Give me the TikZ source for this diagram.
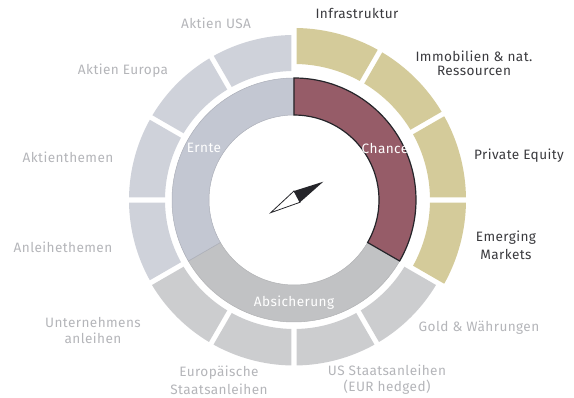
\documentclass[tikz,border=0pt]{standalone}
\usepackage{fontspec}
\setmainfont[LetterSpace=3]{Fira Sans}
\usetikzlibrary{positioning}
\definecolor{goldseg}{HTML}{D4CB9A}
\definecolor{blueseg}{HTML}{CFD2DA}
\definecolor{greyseg}{HTML}{CCCDCF}
\definecolor{ernteseg}{HTML}{C3C7D2}
\definecolor{absichseg}{HTML}{C1C2C4}
\definecolor{chanceseg}{HTML}{965C68}
\definecolor{darktext}{HTML}{3A3A3E}
\definecolor{paletext}{HTML}{B4B5B9}
\definecolor{darkline}{HTML}{25252A}
\tikzset{lab/.style={font=\fontsize{13.6}{15}\selectfont,inner sep=0pt,text=paletext}}
\tikzset{labdark/.style={lab,text=darktext}}
\tikzset{labring/.style={lab,text=white}}
% start, end, outer radius, inner radius, colour
\newcommand{\outerseg}[5]{%
  \pgfmathsetmacro{\gapo}{2.6/#3*57.3}\pgfmathsetmacro{\gapi}{2.6/#4*57.3}%
  \fill[#5] (#1-\gapo:#3pt) arc[start angle=#1-\gapo,end angle=#2+\gapo,radius=#3pt]
    -- (#2+\gapi:#4pt) arc[start angle=#2+\gapi,end angle=#1-\gapi,radius=#4pt] -- cycle;}
\newcommand{\innerseg}[4]{%
  \draw[#3,fill=#4] (#1:122pt) arc[start angle=#1,end angle=#2,radius=122pt]
    -- (#2:85pt) arc[start angle=#2,end angle=#1,radius=85pt] -- cycle;}
\begin{document}
\begin{tikzpicture}[x=1pt,y=1pt]
\useasboundingbox (-294,-198) rectangle (280,200);

% outer ring
\foreach \a in {90,60,30,0} \outerseg{\a}{\a-30}{172}{136}{goldseg};
\foreach \a in {-30,-60,-90,-120} \outerseg{\a}{\a-30}{165.5}{129}{greyseg};
\foreach \a in {-150,-180,-210,-240} \outerseg{\a}{\a-30}{165}{129}{blueseg};

% inner ring
\innerseg{-30}{-150}{absichseg!92!black,line width=0.5pt}{absichseg}
\innerseg{-150}{-270}{ernteseg!88!black,line width=0.5pt}{ernteseg}
\innerseg{90}{-30}{darkline,line width=1.2pt}{chanceseg}

% compass
\coordinate (tip) at (29.3,18.3);
\coordinate (midl) at (0,9);
\coordinate (midr) at (6,-2.3);
\coordinate (tail) at (-23.3,-12.7);
\draw[darkline,fill=white,line width=0.8pt,line join=miter] (tail) -- (midl) -- (midr) -- cycle;
\fill[darkline] (tip) -- (midl) -- (midr) -- cycle;

% ring labels
\node[labring] (ernte) at (-90,52) {Ernte};
\node[labring] (chance) at (91,52) {Chance};
\node[labring] (absicherung) at (0,-102.5) {Absicherung};

% outer labels
\node[labdark] (infra) at (63,187) {Infrastruktur};
\node[labdark] (immo) at (180,136.5) {\shortstack{Immobilien \& nat. \\[2pt] Ressourcen}};
\node[labdark] (private) at (225,44) {Private Equity};
\node[labdark] (emerging) at (212,-45.5) {\shortstack{Emerging \\[2pt] Markets}};
\node[lab] (gold) at (185,-128) {Gold \& Währungen};
\node[lab] (usstaat) at (93,-179.5) {\shortstack{US Staatsanleihen \\[2pt] (EUR hedged)}};
\node[lab] (eurostaat) at (-75,-180.5) {\shortstack{Europäische \\[2pt] Staatsanleihen}};
\node[lab] (unternehmen) at (-201,-130.5) {\shortstack{Unternehmens \\[2pt] anleihen}};
\node[lab] (anleihe) at (-231,-47) {Anleihethemen};
\node[lab] (themen) at (-226,43) {Aktienthemen};
\node[lab] (europa) at (-171,129) {Aktien Europa};
\node[lab] (usa) at (-78,177) {Aktien USA};
\end{tikzpicture}
\end{document}
